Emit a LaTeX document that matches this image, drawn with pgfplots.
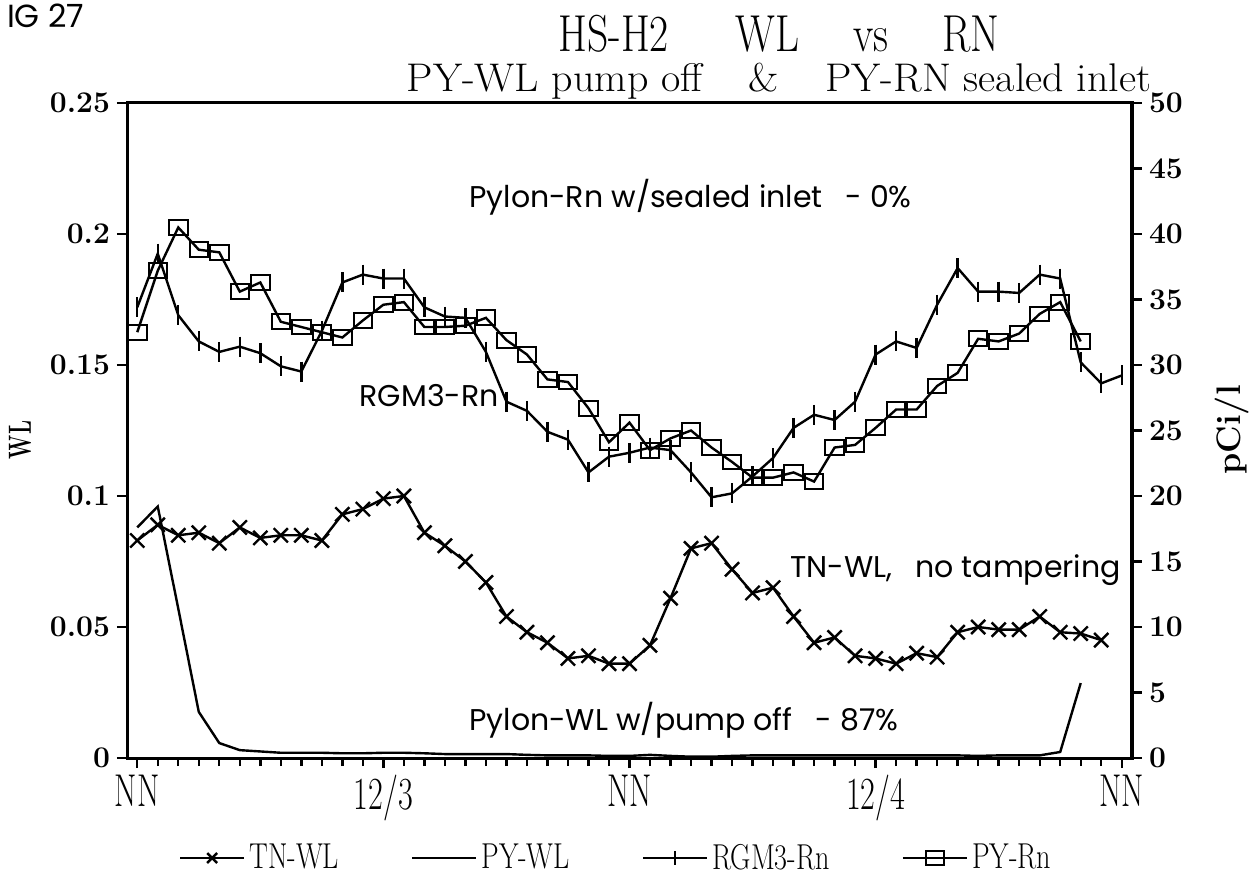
\documentclass[border=0pt]{standalone}
\usepackage{fontspec}
\usepackage{pgfplots}
\pgfplotsset{compat=1.18}
\usepackage{pgfplotstable}
\newfontfamily\annfont{Poppins}
\newcommand{\cond}[2][0.7]{\scalebox{#1}[1]{#2}}

% hours from the first noon; WL on the left axis, pCi/l on the right
\pgfplotstableread{
h v
0 0.083
1 0.089
2 0.085
3 0.086
4 0.082
5 0.088
6 0.084
7 0.085
8 0.085
9 0.083
10 0.093
11 0.095
12 0.099
13 0.100
14 0.086
15 0.081
16 0.075
17 0.067
18 0.054
19 0.048
20 0.044
21 0.038
22 0.039
23 0.036
24 0.036
25 0.043
26 0.061
27 0.080
28 0.082
29 0.072
30 0.063
31 0.065
32 0.054
33 0.044
34 0.046
35 0.039
36 0.038
37 0.036
38 0.040
39 0.0385
40 0.048
41 0.050
42 0.049
43 0.049
44 0.054
45 0.048
46 0.0475
47 0.045
}\tnwl

\pgfplotstableread{
h v
0 0.088
1 0.096
2 0.057
3 0.0176
4 0.0057
5 0.0030
6 0.0025
7 0.0020
8 0.0020
9 0.0020
10 0.0018
11 0.0018
12 0.0020
13 0.0020
14 0.0018
15 0.0015
16 0.0015
17 0.0015
18 0.0015
19 0.0012
20 0.0010
21 0.0010
22 0.0010
23 0.0008
24 0.0008
25 0.0012
26 0.0008
27 0.0005
28 0.0005
29 0.0008
30 0.0010
31 0.0010
32 0.0010
33 0.0010
34 0.0010
35 0.0010
36 0.0010
37 0.0010
38 0.0010
39 0.0010
40 0.0010
41 0.0008
42 0.0010
43 0.0010
44 0.0010
45 0.0023
46 0.0286
}\pywl

\pgfplotstableread{
h v
0 34.4
1 38.5
2 33.8
3 31.8
4 31.0
5 31.4
6 30.9
7 29.9
8 29.5
9 32.6
10 36.3
11 36.9
12 36.6
13 36.6
14 34.4
15 33.7
16 33.6
17 31.0
18 27.2
19 26.5
20 24.9
21 24.3
22 21.8
23 23.0
24 23.3
25 23.7
26 23.5
27 21.8
28 19.9
29 20.2
30 21.5
31 22.9
32 25.2
33 26.2
34 25.8
35 27.2
36 30.8
37 31.8
38 31.3
39 34.6
40 37.4
41 35.6
42 35.6
43 35.5
44 36.9
45 36.6
46 30.2
47 28.6
48 29.2
}\rgm

\pgfplotstableread{
h v
0 32.5
1 37.2
2 40.5
3 38.8
4 38.6
5 35.6
6 36.3
7 33.3
8 32.9
9 32.5
10 32.1
11 33.4
12 34.6
13 34.8
14 32.9
15 32.9
16 33.0
17 33.6
18 31.9
19 30.8
20 28.9
21 28.7
22 26.7
23 24.1
24 25.6
25 23.5
26 24.4
27 25.0
28 23.7
29 22.6
30 21.4
31 21.4
32 21.8
33 21.1
34 23.7
35 23.9
36 25.2
37 26.6
38 26.6
39 28.4
40 29.4
41 32.0
42 31.8
43 32.4
44 33.9
45 34.8
46 31.8
}\pyrn

\tikzset{
  tnst/.style={black, line width=1.2bp, mark=x, mark size=5bp, mark options={solid, line width=1.2bp}},
  pywlst/.style={black, line width=1.2bp, no markers},
  rgmst/.style={black, line width=1.2bp, mark=|, mark size=5bp, mark options={solid, line width=1.2bp}},
  pyrnst/.style={black, line width=1.2bp, mark=square, mark size=3.7bp, mark options={solid, xscale=1.25, line width=1bp}},
  ann/.style={anchor=west, font=\annfont\fontsize{15bp}{15bp}\selectfont},
}

\begin{document}
\begin{tikzpicture}
\pgfplotsset{
  every axis/.append style={
    at={(0,0)}, anchor=south west,
    scale only axis, width=502.5bp, height=327.5bp,
    xmin=-0.5, xmax=48.5,
    tick align=outside,
    every tick/.style={black, line width=1.2bp},
    major tick length=5bp, minor tick length=4bp,
    yticklabel style={font=\fontsize{15bp}{15bp}\selectfont\bfseries},
  },
}
\begin{axis}[
  ymin=0, ymax=0.25,
  axis line style={line width=1.5bp},
  xtick={0,12,24,36,48},
  minor xtick={0,...,48},
  xticklabels={{\cond{NN}},{\cond{12/3}},{\cond{NN}},{\cond{12/4}},{\cond{NN}}},
  xticklabel style={font=\fontsize{23bp}{23bp}\selectfont},
  ytick={0,0.05,0.1,0.15,0.2,0.25},
  yticklabels={0,0.05,0.1,0.15,0.2,0.25},
  xtick pos=lower, ytick pos=lower,
]
\addplot[tnst] table[x=h, y=v] {\tnwl};
\addplot[pywlst] table[x=h, y=v] {\pywl};
\node[ann] at (axis cs:15.85,0.214) {Pylon-Rn w/sealed inlet\enspace\ - 0\%};
\node[ann] at (axis cs:10.5,0.1385) {RGM3-Rn};
\node[ann] at (axis cs:31.5,0.0718) {TN-WL,\enspace\ no tampering};
\node[ann] at (axis cs:15.85,0.0145) {Pylon-WL w/pump off\enspace\ - 87\%};
\end{axis}
\begin{axis}[
  ymin=0, ymax=50,
  axis y line*=right, axis x line=none,
  axis line style={line width=1.5bp},
  ytick={0,5,...,50},
  yticklabels={0,5,10,15,20,25,30,35,40,45,50},
  legend columns=4,
  legend style={draw=none, fill=none, at={(axis description cs:0.4876,-0.1527)}, anchor=center,
    font=\fontsize{18bp}{18bp}\selectfont,
    /tikz/every even column/.append style={column sep=34bp}},
  legend image code/.code={\draw[mark repeat=2, mark phase=2, #1, mark size=3.5bp] plot coordinates {(0bp,0bp) (16bp,0bp) (32bp,0bp)};},
]
\addlegendimage{tnst}
\addlegendentry{\cond[0.78]{TN-WL}}
\addlegendimage{pywlst}
\addlegendentry{\cond[0.78]{PY-WL}}
\addplot[rgmst] table[x=h, y=v] {\rgm};
\addlegendentry{\cond[0.78]{RGM3-Rn}}
\addplot[pyrnst] table[x=h, y=v] {\pyrn};
\addlegendentry{\cond[0.78]{PY-Rn}}
\end{axis}
% two-line title as one block
\node[anchor=base, inner sep=0pt] at (326bp,333bp) {\begin{tabular}[b]{@{}c@{}}
  \fontsize{26bp}{26bp}\selectfont\cond[0.8]{HS-H2\hspace{1.6em}WL\hspace{1.3em}vs\hspace{1.3em}RN}\\[2.5bp]
  \fontsize{20bp}{20bp}\selectfont\cond[1.05]{PY-WL pump off\hspace{1.1em}\&\hspace{1.1em}PY-RN sealed inlet}
\end{tabular}};
\node[anchor=base west, font=\annfont\fontsize{16bp}{16bp}\selectfont] at (-63.5bp,365bp) {IG 27};
\node[rotate=90, font=\fontsize{16bp}{16bp}\selectfont\bfseries] at (-53.5bp,159bp) {\cond[0.65]{WL}};
\node[rotate=90, font=\fontsize{17bp}{17bp}\selectfont\bfseries] at (552.5bp,164bp) {pCi/l};
\pgfresetboundingbox
\path[use as bounding box] (-63.5bp,-65.5bp) rectangle (561bp,379bp);
\end{tikzpicture}
\end{document}
